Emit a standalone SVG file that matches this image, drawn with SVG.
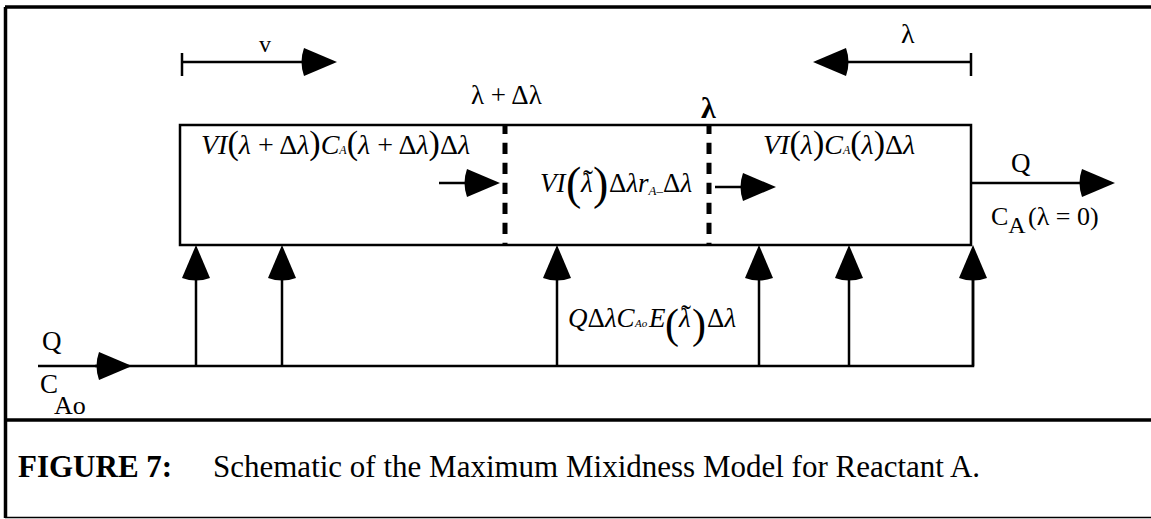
<svg xmlns="http://www.w3.org/2000/svg" width="1151" height="519" viewBox="0 0 1151 519">
<style>
.t { font-family: "Liberation Serif", "Times New Roman", serif; fill: #000; }
.m { font-family: "Liberation Serif", "Times New Roman", serif; font-style: italic; fill: #000; }
.u { font-style: normal; }
.ln { stroke: #000; stroke-width: 2.5; fill: none; }
.fr { stroke: #000; stroke-width: 3.5; fill: none; }
.dash { stroke: #000; stroke-width: 5; fill: none; stroke-dasharray: 11.3 8.7; stroke-dashoffset: 2.3; }
.arr { stroke: #000; stroke-width: 2.5; fill: none; marker-end: url(#ah); }
</style>
<defs>
<marker id="ah" markerUnits="userSpaceOnUse" orient="auto" viewBox="-40 -16 42 32" refX="-10" refY="0" markerWidth="42" markerHeight="32">
<path d="M0,0 L-33,-14 Q-38,0 -33,14 Z" fill="#000"/>
</marker>
</defs>

<g id="frame">
<line class="fr" x1="5" y1="7" x2="1151" y2="7"/>
<line class="fr" x1="5.5" y1="7" x2="5.5" y2="518"/>
<line class="fr" x1="5" y1="420" x2="1151" y2="420"/>
<line x1="5" y1="517.5" x2="1151" y2="517.5" stroke="#000" stroke-width="1.5"/>
</g>

<g id="reactor">
<rect class="ln" x="180" y="125" width="791" height="120"/>
<line class="dash" x1="505" y1="125" x2="505" y2="245"/>
<line class="dash" x1="709" y1="125" x2="709" y2="245"/>
</g>

<g id="connectors">
<line class="ln" x1="182" y1="53" x2="182" y2="76"/>
<line class="arr" x1="182" y1="62" x2="327" y2="62"/>
<line class="ln" x1="971" y1="53" x2="971" y2="76"/>
<line class="arr" x1="971" y1="62" x2="823" y2="62"/>
<line class="arr" x1="439" y1="183" x2="490" y2="183"/>
<line class="arr" x1="715" y1="187" x2="766" y2="187"/>
<line class="arr" x1="971" y1="183" x2="1105" y2="183"/>
<path class="ln" d="M38,366 H973 V255"/>
<line class="arr" x1="95" y1="366" x2="122" y2="366"/>
<line class="arr" x1="196" y1="366" x2="196" y2="255"/>
<line class="arr" x1="282" y1="366" x2="282" y2="255"/>
<line class="arr" x1="557" y1="366" x2="557" y2="255"/>
<line class="arr" x1="759" y1="366" x2="759" y2="255"/>
<line class="arr" x1="849" y1="366" x2="849" y2="255"/>
<line class="arr" x1="973" y1="366" x2="973" y2="255"/>
</g>

<g id="labels-top">
<text class="t" x="259" y="52" font-size="24">v</text>
<text class="t" x="901" y="43" font-size="28">λ</text>
<text class="t" x="471" y="104" font-size="27">λ + Δλ</text>
<text class="t" x="701" y="118" font-size="30" font-weight="bold">λ</text>
</g>

<g id="label-left">
<text class="m" x="201" y="154" font-size="28">VI<tspan class="u" font-size="34">(</tspan>λ<tspan class="u"> + Δ</tspan>λ<tspan class="u" font-size="34">)</tspan>C<tspan font-size="12">A</tspan><tspan class="u" font-size="34">(</tspan>λ<tspan class="u"> + Δ</tspan>λ<tspan class="u" font-size="34">)</tspan><tspan class="u">Δ</tspan>λ</text>
</g>

<g id="label-mid">
<text class="m" font-size="27"><tspan x="540" y="192">VI</tspan><tspan class="u" x="566" y="199" font-size="46">(</tspan><tspan x="581" y="192">λ</tspan><tspan class="u" x="583" y="190" font-size="30">˜</tspan><tspan class="u" x="593" y="199" font-size="46">)</tspan><tspan class="u" x="609" y="192">Δ</tspan>λr<tspan font-size="13" dy="3">A</tspan><tspan class="u" font-size="13">–</tspan><tspan class="u" dy="-3">Δ</tspan>λ</text>
</g>

<g id="label-right">
<text class="m" x="763" y="154" font-size="28">VI<tspan class="u" font-size="34">(</tspan>λ<tspan class="u" font-size="34">)</tspan>C<tspan font-size="12">A</tspan><tspan class="u" font-size="34">(</tspan>λ<tspan class="u" font-size="34">)</tspan><tspan class="u">Δ</tspan>λ</text>
</g>

<g id="label-feed-split">
<text class="m" font-size="27"><tspan x="568" y="327">Q</tspan><tspan class="u">Δ</tspan>λC<tspan x="635" font-size="11">Ao</tspan><tspan x="649">E</tspan><tspan class="u" x="665" y="338" font-size="42">(</tspan><tspan x="679" y="327">λ</tspan><tspan class="u" x="681" y="325" font-size="30">˜</tspan><tspan class="u" x="692" y="338" font-size="42">)</tspan><tspan class="u" x="707" y="327">Δ</tspan>λ</text>
</g>

<g id="label-outlet">
<text class="t" x="1011" y="172" font-size="27">Q</text>
<text class="t" x="991" y="225" font-size="26">C<tspan font-size="24" dy="8">A</tspan><tspan x="1028" dy="-8">(λ = 0)</tspan></text>
</g>

<g id="label-inlet">
<text class="t" x="42" y="350" font-size="27">Q</text>
<text class="t" x="40" y="393" font-size="27">C<tspan x="54" y="414" font-size="26">Ao</tspan></text>
</g>

<g id="caption">
<text class="t" x="18" y="477" font-size="31" font-weight="bold">FIGURE 7:</text>
<text class="t" x="213" y="477" font-size="31">Schematic of the Maximum Mixidness Model for Reactant A.</text>
</g>
</svg>
